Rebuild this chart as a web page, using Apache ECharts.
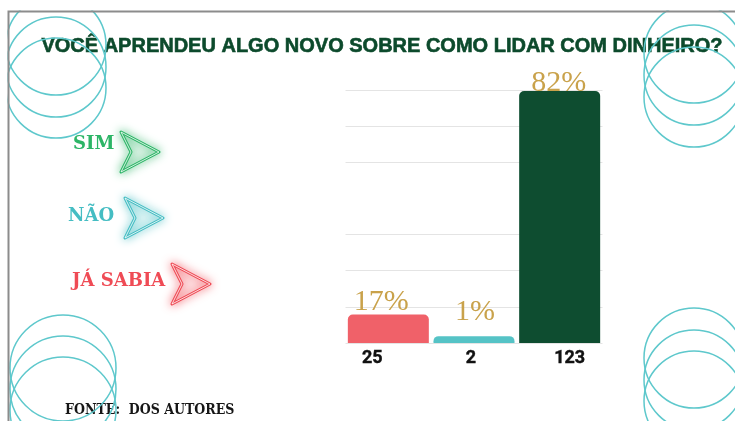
<!DOCTYPE html>
<html>
<head>
<meta charset="utf-8">
<script src="https://cdn.jsdelivr.net/npm/echarts@6/dist/echarts.min.js"></script>
<style>
  html, body { margin: 0; padding: 0; background: #fff; }
  #chart { width: 735px; height: 421px; }
</style>
</head>
<body>
<div id="chart"></div>
<script>
// dados
const respostas = ['Já sabia', 'Não', 'Sim'];
const contagens = [25, 2, 123];
const percentuais = ['17%', '1%', '82%'];
// altura das barras como aparece na figura (em linhas de grade)
const alturas = [0.79, 0.19, 6.97];
const coresBarras = ['#f06169', '#55c3c6', '#0e4d30'];

// legenda desenhada à mão
const legenda = [
  { texto: 'SIM', cor: '#2db567', x: 73, y: 146, seta: [121, 132] },
  { texto: 'NÃO', cor: '#45bdc3', x: 68, y: 218, seta: [125, 198] },
  { texto: 'JÁ SABIA', cor: '#ef4b55', x: 72, y: 283, seta: [172, 264] }
];

const chart = echarts.init(document.getElementById('chart'));

const graficos = [];
// circulos decorativos
const grupos = [
  { cx: 56, cys: [45, 67, 88], r: 50 },
  { cx: 694, cys: [53, 75, 97], r: 50 },
  { cx: 694, cys: [358, 380, 401], r: 50 },
  { cx: 63, cys: [368, 389, 410], r: 53 }
];
grupos.forEach(g => {
  g.cys.forEach(cy => {
    graficos.push({
      type: 'circle', z: 50, silent: true,
      shape: { cx: g.cx, cy: cy, r: g.r },
      style: { fill: 'none', stroke: '#5ec8cc', lineWidth: 1.5 }
    });
  });
});
// mascara fora da moldura
graficos.push({ type: 'rect', z: 60, shape: { x: 0, y: 0, width: 735, height: 10.5 }, style: { fill: '#fff' } });
graficos.push({ type: 'rect', z: 60, shape: { x: 0, y: 0, width: 7.5, height: 421 }, style: { fill: '#fff' } });
// moldura
graficos.push({
  type: 'polyline', z: 70,
  shape: { points: [[8.5, 421], [8.5, 11.5], [735, 11.5]] },
  style: { stroke: '#8c8c8c', lineWidth: 2, fill: 'none' }
});

legenda.forEach(l => {
  graficos.push({
    type: 'text', z: 40, left: l.x, top: l.y - 11,
    style: { text: l.texto, fill: l.cor, font: 'bold 18px "DejaVu Serif"' }
  });
  const [ax, ay] = l.seta;
  const pts = [[ax, ay], [ax + 38, ay + 20], [ax, ay + 40], [ax + 10, ay + 20]];
  graficos.push({
    type: 'polygon', z: 40,
    shape: { points: pts },
    style: { fill: echarts.color.modifyAlpha(l.cor, 0.08), stroke: l.cor, lineWidth: 3, shadowBlur: 10, shadowColor: l.cor, lineJoin: 'round' }
  });
  graficos.push({
    type: 'polygon', z: 41,
    shape: { points: pts },
    style: { fill: 'none', stroke: '#fff', lineWidth: 0.8, lineJoin: 'round' }
  });
});

graficos.push({
  type: 'text', z: 40, left: 65, top: 403,
  style: { text: 'FONTE:  DOS AUTORES', fill: '#161616', font: 'bold 14px "DejaVu Serif Condensed"' }
});

// deslocamentos dos rótulos (estilo)
const padRotulo = [[0, 32, 0, 0], [0, 6, 0, 0], [0, 0, 0, 20]];
const deslocPct = [[-7, 3], [1, -9], [-1, 7]];

chart.setOption({
  animation: false,
  title: {
    text: 'VOCÊ APRENDEU ALGO NOVO SOBRE COMO LIDAR COM DINHEIRO?',
    left: 377, top: 31, textAlign: 'center',
    textStyle: {
      color: '#0c4a2c', fontFamily: 'Liberation Sans', fontWeight: 'bold', fontSize: 20,
      textBorderColor: '#0c4a2c', textBorderWidth: 0.6
    }
  },
  grid: { left: 345.5, top: 90, width: 257, height: 253 },
  xAxis: {
    type: 'category',
    data: respostas,
    axisLine: { show: false },
    axisTick: { show: false },
    axisLabel: {
      margin: 6,
      formatter: (v, i) => '{c' + i + '|' + contagens[i] + '}',
      rich: Object.fromEntries(padRotulo.map((p, i) => ['c' + i, {
        padding: p, color: '#111', fontFamily: 'Roboto', fontWeight: 'bold', fontSize: 18,
        textBorderColor: '#111', textBorderWidth: 0.4
      }]))
    }
  },
  yAxis: {
    type: 'value', min: 0, max: 7, interval: 1,
    axisLabel: { show: false },
    axisLine: { show: false },
    axisTick: { show: false },
    splitLine: { lineStyle: { color: ['#e4e4e4', '#e4e4e4', '#e4e4e4', '#e4e4e4', 'rgba(0,0,0,0)', '#e4e4e4', '#e4e4e4', '#e4e4e4'], width: 1 } }
  },
  series: [{
    type: 'bar',
    barWidth: 81,
    data: alturas.map((v, i) => ({
      value: v,
      itemStyle: { color: coresBarras[i], borderRadius: [5, 5, 0, 0] },
      label: { offset: deslocPct[i] }
    })),
    label: {
      show: true, position: 'top', distance: 0,
      formatter: p => percentuais[p.dataIndex],
      color: '#c9a24b', fontFamily: 'Liberation Serif', fontSize: 30
    }
  }],
  graphic: graficos
});
</script>
</body>
</html>
